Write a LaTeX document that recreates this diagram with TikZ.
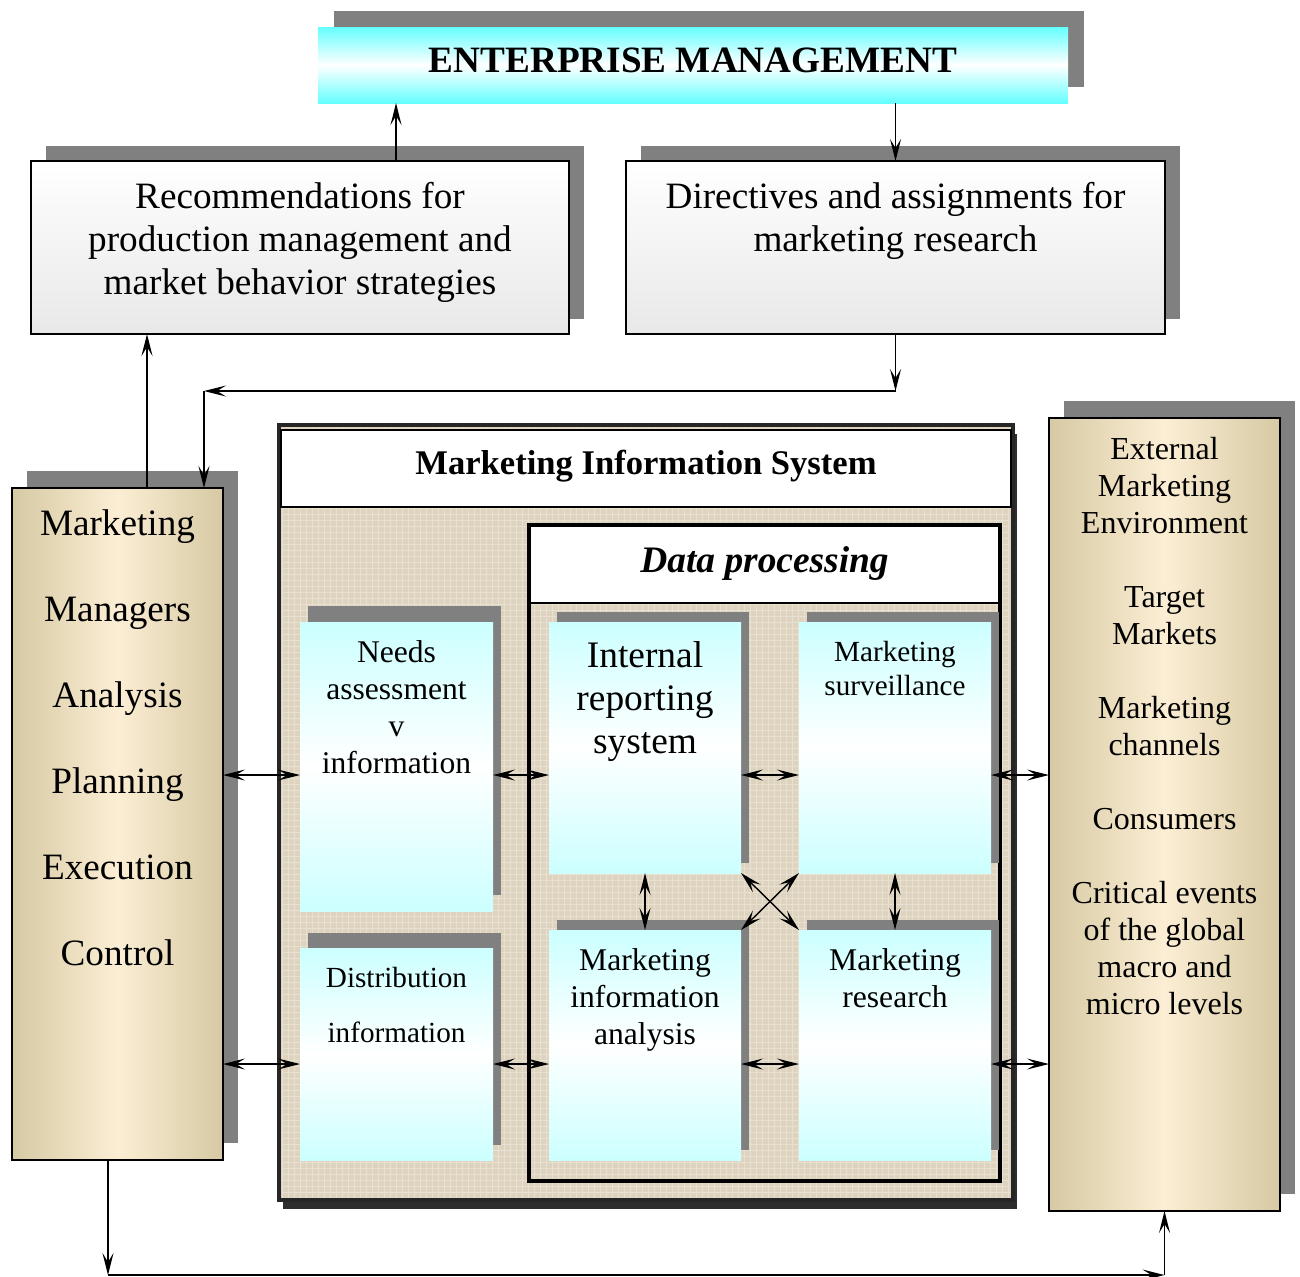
\documentclass[tikz,border=0pt]{standalone}
\usepackage{fontspec}
\setmainfont{Liberation Serif}
\usetikzlibrary{arrows.meta,positioning,shadows,patterns}
\definecolor{shadowgray}{RGB}{128,128,128}
\definecolor{paleaqua}{RGB}{204,255,255}
\definecolor{brightaqua}{RGB}{102,255,255}
\definecolor{tanedge}{RGB}{214,201,163}
\definecolor{creamcore}{RGB}{252,238,212}
\definecolor{linen}{RGB}{221,211,190}
\definecolor{linenweave}{RGB}{232,224,208}
\definecolor{frameshadow}{RGB}{45,45,45}
\tikzset{
	box/.style={
		rectangle,
		inner sep=0pt,
		outer sep=0pt
	},
	headbox/.style={
		box,
		top color=brightaqua,
		bottom color=brightaqua,
		middle color=white,
		general shadow={fill=shadowgray, shadow xshift=8pt, shadow yshift=8pt}
	},
	notebox/.style={
		box,
		draw=black,
		line width=0.6pt,
		top color=white,
		bottom color=black!9,
		general shadow={fill=shadowgray, shadow xshift=7.5pt, shadow yshift=7.5pt}
	},
	sidebox/.style={
		box,
		draw=black,
		line width=0.8pt,
		left color=tanedge,
		right color=tanedge,
		middle color=creamcore,
		general shadow={fill=shadowgray, shadow xshift=7.5pt, shadow yshift=8.5pt}
	},
	infobox/.style={
		box,
		top color=paleaqua,
		bottom color=paleaqua,
		middle color=white,
		general shadow={fill=shadowgray, shadow xshift=4pt, shadow yshift=#1}
	},
	infobox/.default=8pt,
	misframe/.style={
		box,
		draw=black!85,
		line width=2pt,
		fill=linen,
		general shadow={fill=frameshadow, shadow xshift=2pt, shadow yshift=-4.5pt}
	},
	weave/.style={
		pattern=grid,
		pattern color=linenweave
	},
	titlebox/.style={
		box,
		draw=black,
		line width=0.7pt,
		fill=white
	},
	txt/.style={
		align=center,
		inner sep=0pt,
		text=black
	},
	link/.style={
		draw=black,
		line width=0.7pt,
		-{Stealth[length=11pt,width=5.5pt,inset=4.5pt]}
	},
	dlink/.style={
		draw=black,
		line width=0.7pt,
		{Stealth[length=11pt,width=5.5pt,inset=4.5pt]}-{Stealth[length=11pt,width=5.5pt,inset=4.5pt]}
	},
}

\begin{document}
\begin{tikzpicture}[x=0.5pt,y=-0.5pt]
	\useasboundingbox (0,0) rectangle (1300,1276);

	% top level
	\node[headbox, minimum width=375pt, minimum height=38pt] (em) at (693,65) {};
	\node[txt, below=10pt of em.north, font=\fontsize{18.6}{21.5}\selectfont\bfseries] (emT) {ENTERPRISE MANAGEMENT};

	\node[notebox, minimum width=269pt, minimum height=86.5pt] (rec) at (300,247.5) {};
	\node[txt, below=10.5pt of rec.north, font=\fontsize{18.6}{21.5}\selectfont] (recT) {Recommendations for\\production management and\\market behavior strategies};
	\node[notebox, minimum width=269.5pt, minimum height=86.5pt] (dir) at (895.5,247.5) {};
	\node[txt, below=10.5pt of dir.north, font=\fontsize{18.6}{21.5}\selectfont] (dirT) {Directives and assignments for\\marketing research};

	% side columns
	\node[sidebox, minimum width=105.5pt, minimum height=336pt] (mgr) at (117.5,824) {};
	\node[txt, below=10.5pt of mgr.north, font=\fontsize{18.6}{43}\selectfont] (mgrT) {Marketing\\Managers\\Analysis\\Planning\\Execution\\Control};
	\node[sidebox, minimum width=115.5pt, minimum height=396.5pt] (ext) at (1164.5,814.5) {};
	\node[txt, below=9.5pt of ext.north, font=\fontsize{16}{18.5}\selectfont] (extT) {External\\Marketing\\Environment\\[18.5pt]Target\\Markets\\[18.5pt]Marketing\\channels\\[18.5pt]Consumers\\[18.5pt]Critical events\\of the global\\macro and\\micro levels};

	% marketing information system
	\node[misframe, minimum width=367pt, minimum height=387.5pt] (mis) at (646,812.5) {};
	\fill[weave] ([shift={(3,3)}]mis.north west) rectangle ([shift={(-3,-3)}]mis.south east);
	\node[titlebox, minimum width=365pt, minimum height=38.5pt] (misHead) at (646,468.5) {};
	\node[txt, below=10pt of misHead.north, font=\fontsize{17.3}{20}\selectfont\bfseries] (misT) {Marketing Information System};

	\node[titlebox, minimum width=235.5pt, minimum height=39pt] (dpHead) at (764.5,564) {};
	\node[box, draw=black, line width=2pt, minimum width=235.5pt, minimum height=328pt] (dp) at (764.5,853) {};
	\node[txt, below=10.5pt of dpHead.north, font=\fontsize{18.7}{21.5}\selectfont\bfseries\itshape] (dpT) {Data processing};

	\node[infobox, minimum width=96.5pt, minimum height=144.5pt] (needs) at (396.5,766.5) {};
	\node[txt, below=9.3pt of needs.north, font=\fontsize{15.8}{18.5}\selectfont] (needsT) {Needs\\assessment\\v\\information};
	\node[infobox=7.5pt, minimum width=96.5pt, minimum height=106pt] (dist) at (396.5,1054) {};
	\node[txt, below=9.3pt of dist.north, font=\fontsize{14.6}{27.5}\selectfont] (distT) {Distribution\\information};

	\node[infobox=5pt, minimum width=96pt, minimum height=125.5pt] (intrep) at (645,747.5) {};
	\node[txt, below=9.8pt of intrep.north, font=\fontsize{18.7}{21.5}\selectfont] (intrepT) {Internal\\reporting\\system};
	\node[infobox=5pt, minimum width=96pt, minimum height=125.5pt] (surv) at (895,747.5) {};
	\node[txt, below=9.3pt of surv.north, font=\fontsize{14.6}{17}\selectfont] (survT) {Marketing\\surveillance};
	\node[infobox=5pt, minimum width=96pt, minimum height=115pt] (mkan) at (645,1045) {};
	\node[txt, below=9.3pt of mkan.north, font=\fontsize{15.8}{18.5}\selectfont] (mkanT) {Marketing\\information\\analysis};
	\node[infobox=5pt, minimum width=96pt, minimum height=115pt] (mkres) at (895,1045) {};
	\node[txt, below=9.3pt of mkres.north, font=\fontsize{15.8}{18.5}\selectfont] (mkresT) {Marketing\\research};

	% helper points for the connectors
	\coordinate (rowA) at (0,775);
	\coordinate (rowB) at (0,1064);
	\coordinate (upA) at (396,0);
	\coordinate (upB) at (147,0);
	\coordinate (turnL) at (204,391);
	\coordinate (botL) at (108,1275);
	\coordinate (botR) at (ext.south |- botL);

	\draw[link] (rec.north -| upA) -- (em.south -| upA);
	\draw[link] (em.south -| dir.north) -- (dir.north);
	\draw[link] (dir.south) -- (dir.south |- turnL);
	\draw[link] (dir.south |- turnL) -- (turnL);
	\draw[link] (turnL) -- (turnL |- mgr.north);
	\draw[link] (mgr.north -| upB) -- (rec.south -| upB);
	\draw[link] (mgr.south -| botL) -- (botL);
	\draw[link] (botL) -- (botR);
	\draw[link] (botR) -- (ext.south);

	\draw[dlink] (mgr.east |- rowA) -- (needs.west |- rowA);
	\draw[dlink] (mgr.east |- rowB) -- (dist.west |- rowB);
	\draw[dlink] (needs.east |- rowA) -- (intrep.west |- rowA);
	\draw[dlink] (dist.east |- rowB) -- (mkan.west |- rowB);
	\draw[dlink] (intrep.east |- rowA) -- (surv.west |- rowA);
	\draw[dlink] (mkan.east |- rowB) -- (mkres.west |- rowB);
	\draw[dlink] (surv.east |- rowA) -- (ext.west |- rowA);
	\draw[dlink] (mkres.east |- rowB) -- (ext.west |- rowB);
	\draw[dlink] (intrep.south) -- (mkan.north);
	\draw[dlink] (surv.south) -- (mkres.north);
	\draw[dlink] (intrep.south east) -- (mkres.north west);
	\draw[dlink] (surv.south west) -- (mkan.north east);
\end{tikzpicture}
\end{document}
